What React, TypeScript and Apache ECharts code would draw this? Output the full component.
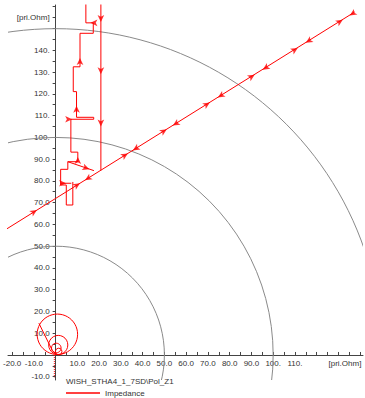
import React, { useEffect, useRef } from "react";
import * as echarts from "echarts";

const seriesName = "Impedance";
const chartTitle = "WISH_STHA4_1_7SD\\Pol_Z1";

const xRange = [-21.9, 141.3];
const yRange = [-11.5, 160.8];

const xTickValues = [-20, -15, -10, -5, 0, 5, 10, 15, 20, 25, 30, 35, 40, 45, 50, 55, 60, 65, 70, 75, 80, 85, 90, 95, 100, 105, 110, 115, 120, 125, 130, 135, 140];
const yTickValues = [-10, -5, 0, 5, 10, 15, 20, 25, 30, 35, 40, 45, 50, 55, 60, 65, 70, 75, 80, 85, 90, 95, 100, 105, 110, 115, 120, 125, 130, 135, 140, 145, 150, 155, 160];

const xLabelValues = [-20, -10, 10, 20, 30, 40, 50, 60, 70, 80, 90, 100, 110, 133];
const xLabelTexts = ["-20.0", "-10.0", "10.0", "20.0", "30.0", "40.0", "50.0", "60.0", "70.0", "80.0", "90.0", "100.", "110.", "[pri.Ohm]"];
const yLabelValues = [-10, 10, 20, 30, 40, 50, 60, 70, 80, 90, 100, 110, 120, 130, 140, 155];
const yLabelTexts = ["-10.0", "10.0", "20.0", "30.0", "40.0", "50.0", "60.0", "70.0", "80.0", "90.0", "100.", "110.", "120.", "130.", "140.", "[pri.Ohm]"];

// reference circles [cx, cy, r]
const gridCircles = [
  [0, 0, 50],
  [0, 0, 100],
  [0, 0, 150],
];

// impedance loops near the origin [cx, cy, r]
const impedanceCircles = [
  [0.8, 9.5, 9.3],
  [1.2, 4.6, 4.4],
  [0.3, 3.2, 2.2],
  [1.4, 1.6, 1.5],
];

const impedanceDiagonal = [
  [-23.0, 57.6],
  [137.5, 157.6],
];
const impedanceClimb = [
  [7.9, 79.5], [7.9, 68.9], [4.9, 68.9], [4.9, 78.1], [2.3, 78.1], [2.3, 85.3],
  [5.6, 85.3], [5.6, 88.8], [10.2, 88.8], [10.2, 93.2], [7.0, 93.2], [7.0, 108.3],
  [17.5, 108.3], [17.5, 109.2], [9.6, 109.2], [9.6, 121.0], [8.1, 121.0], [8.1, 132.4],
  [11.2, 132.4], [11.2, 147.8], [17.3, 147.8], [17.3, 152.6], [13.9, 152.6], [13.9, 162.0],
];
const impedanceStep = [
  [2.3, 78.9], [7.2, 78.9],
];
const impedanceSwing = [
  [5.6, 88.8], [17.6, 84.7],
];
const impedanceDescent = [
  [20.8, 162.0], [20.8, 84.8],
];
const impedanceTail = [
  [-7.7, 14.6], [-1.5, 2.0], [0.2, 0.3],
];
const impedanceDrop = [
  [-0.6, 0], [-0.6, -10.3],
];

// arrow markers [x, y, direction in degrees]
const arrows = [
  [-8.6, 66.6, 32], [11.2, 78.9, 32], [33.2, 92.6, 32], [51.1, 103.7, 32], [70.9, 116.0, 32],
  [91.5, 128.8, 32], [111.3, 141.1, 32], [132.0, 154.0, 32],
  [13.5, 80.3, 212], [35.5, 94.0, 212], [53.9, 105.4, 212], [74.6, 118.3, 212],
  [95.2, 131.1, 212], [115.0, 143.4, 212], [135.2, 156.0, 212],
  [11.2, 136.5, 90], [9.6, 114.5, 90], [10.2, 91.0, 90],
  [7.6, 108.3, 0], [4.8, 78.9, 0],
  [16.0, 152.6, 180],
  [20.8, 153.0, 270], [20.8, 129.0, 270], [20.8, 105.0, 270],
  [15.5, 85.3, -20],
];

const RED = "#ff0000";
const FONT = "Liberation Sans, Arial, sans-serif";

const GRID = { left: 8, right: 2, top: 5, bottom: 18 };
const CHART_W = 365;
const CHART_H = 398;

function circleRenderer(color: string) {
  return (params: any, api: any) => {
    const c = api.coord([api.value(0), api.value(1)]);
    const s = api.size([api.value(2), api.value(2)]);
    return {
      type: "circle",
      shape: { cx: c[0], cy: c[1], r: s[0] },
      style: { fill: "none", stroke: color, lineWidth: 1 },
    };
  };
}

function lineSeries(data: number[][], dotted = false) {
  return {
    name: seriesName,
    type: "line",
    data,
    symbol: "none",
    showSymbol: false,
    lineStyle: { color: RED, width: 1, type: dotted ? "dotted" : "solid" },
    itemStyle: { color: RED },
    clip: true,
    z: 3,
  };
}

export default function App() {
  const ref = useRef<HTMLDivElement>(null);
  useEffect(() => {
    document.body.style.margin = "0";
    const chart = echarts.init(ref.current as HTMLDivElement, null, { renderer: "svg" });
    // place each axis at the other axis' zero through the axis scale
    const plotW = CHART_W - GRID.left - GRID.right;
    const plotH = CHART_H - GRID.top - GRID.bottom;
    const xZeroOffset = -((0 - xRange[0]) / (xRange[1] - xRange[0])) * plotW;
    const yZeroOffset = -((0 - yRange[0]) / (yRange[1] - yRange[0])) * plotH;
    const option: any = {
      animation: false,
      title: {
        text: chartTitle,
        left: 66,
        top: 377,
        padding: 0,
        textStyle: { fontSize: 8, fontWeight: "normal", color: "#333", fontFamily: FONT },
      },
      legend: {
        data: [seriesName],
        left: 66,
        top: 389,
        padding: 0,
        icon: "rect",
        itemWidth: 34,
        itemHeight: 1.5,
        itemGap: 5,
        textStyle: { fontSize: 8, color: "#333", fontFamily: FONT },
      },
      grid: {
        ...GRID,
        containLabel: false,
        outerBoundsMode: "none",
      },
      xAxis: {
        type: "value",
        position: "bottom",
        offset: yZeroOffset,
        min: xRange[0],
        max: xRange[1],
        axisLine: { onZero: false, lineStyle: { color: "#444", width: 1 } },
        axisTick: { show: true, inside: true, length: 3, customValues: xTickValues, lineStyle: { color: "#444" } },
        axisLabel: {
          customValues: xLabelValues,
          margin: 5,
          fontSize: 8,
          color: "#333",
          fontFamily: FONT,
          formatter: (v: number) => {
            const i = xLabelValues.indexOf(v);
            return i >= 0 ? xLabelTexts[i] : "";
          },
        },
        splitLine: { show: false },
      },
      yAxis: {
        type: "value",
        position: "left",
        offset: xZeroOffset,
        min: yRange[0],
        max: yRange[1],
        axisLine: { onZero: false, lineStyle: { color: "#444", width: 1 } },
        axisTick: { show: true, inside: false, length: 3, customValues: yTickValues, lineStyle: { color: "#444" } },
        axisLabel: {
          customValues: yLabelValues,
          margin: 6,
          fontSize: 8,
          color: "#333",
          fontFamily: FONT,
          formatter: (v: number) => {
            const i = yLabelValues.indexOf(v);
            return i >= 0 ? yLabelTexts[i] : "";
          },
        },
        splitLine: { show: false },
      },
      series: [
        {
          type: "custom",
          data: gridCircles,
          dimensions: ["x", "y", "r"],
          encode: { x: 0, y: 1 },
          renderItem: circleRenderer("#8a8a8a"),
          clip: true,
          silent: true,
          z: 1,
        },
        {
          type: "custom",
          data: impedanceCircles,
          dimensions: ["x", "y", "r"],
          encode: { x: 0, y: 1 },
          renderItem: circleRenderer(RED),
          clip: true,
          silent: true,
          z: 3,
        },
        lineSeries(impedanceDiagonal),
        lineSeries(impedanceClimb),
        lineSeries(impedanceStep),
        lineSeries(impedanceSwing),
        lineSeries(impedanceDescent),
        lineSeries(impedanceTail),
        lineSeries(impedanceDrop, true),
        {
          type: "scatter",
          data: arrows,
          symbol: "arrow",
          symbolSize: [5, 7],
          symbolRotate: (v: number[]) => v[2] - 90,
          itemStyle: { color: RED },
          silent: true,
          z: 4,
        },
      ],
    };
    chart.setOption(option);
    return () => chart.dispose();
  }, []);
  return <div ref={ref} style={{ width: CHART_W, height: CHART_H }} />;
}
